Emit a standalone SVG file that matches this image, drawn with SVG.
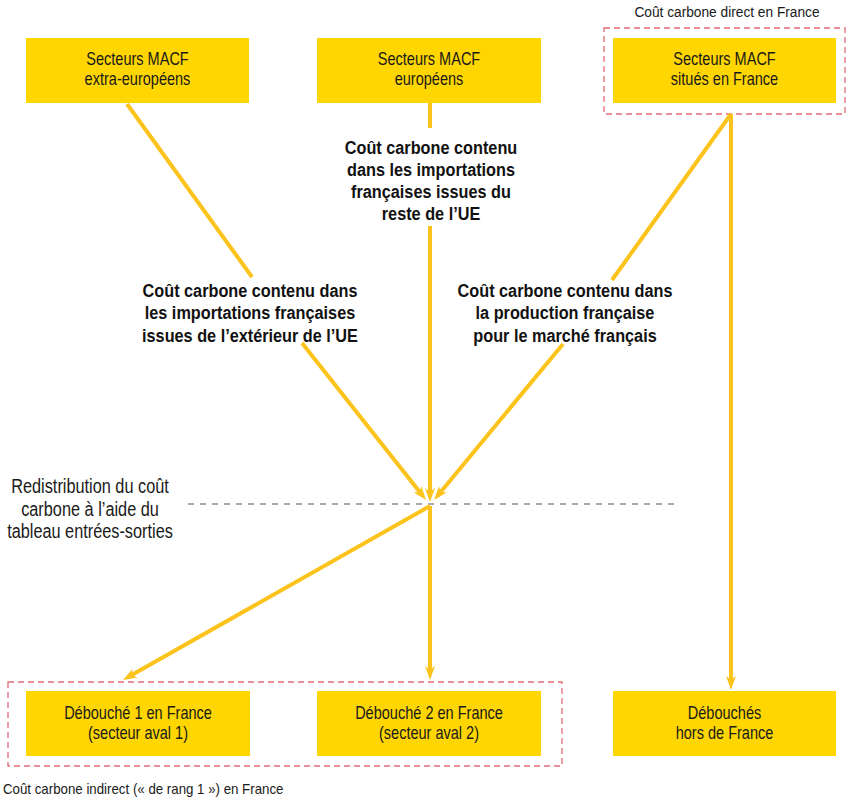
<svg xmlns="http://www.w3.org/2000/svg" width="854" height="800" viewBox="0 0 854 800">
<style>
.box{fill:#FFD600;}
text{font-family:"Liberation Sans",Arial,sans-serif;fill:#1a1a1a;}
.bt{font-size:17.5px;text-anchor:middle;}
.rt{font-size:20px;text-anchor:middle;}
.lb{font-size:17.5px;font-weight:bold;fill:#111;text-anchor:middle;}
.nt{font-size:15px;}
.ln{stroke:#FBC31C;stroke-width:4;fill:none;}
.ar{marker-end:url(#ah);}
.rd{fill:none;stroke:#E46A78;stroke-width:1.3;stroke-dasharray:6 4;}
</style>
<defs>
<marker id="ah" viewBox="0 0 14 10" refX="8" refY="5" markerWidth="14" markerHeight="10" markerUnits="userSpaceOnUse" orient="auto">
<path d="M0,0 L14,5 L0,10 L4,5 z" fill="#FBC31C"/>
</marker>
</defs>
<g id="frames">
<rect class="rd" x="604" y="28" width="241" height="86"/>
<rect class="rd" x="8" y="682" width="554" height="84"/>
<line x1="188" y1="504" x2="676" y2="504" stroke="#555" stroke-width="1.2" stroke-dasharray="6 6"/>
</g>
<g id="connectors">
<line class="ln" x1="127" y1="104" x2="252" y2="277"/>
<line class="ln ar" x1="302" y1="343" x2="422.3" y2="495.3"/>
<line class="ln" x1="430" y1="103" x2="430" y2="128"/>
<line class="ln ar" x1="430" y1="226" x2="430" y2="496"/>
<line class="ln" x1="731" y1="114" x2="612" y2="280"/>
<line class="ln ar" x1="563" y1="344" x2="437.8" y2="495.4"/>
<line class="ln ar" x1="731" y1="114" x2="731" y2="684"/>
<line class="ln ar" x1="430" y1="506" x2="128.2" y2="677.1"/>
<line class="ln ar" x1="430" y1="506" x2="430" y2="674"/>
</g>
<g id="n1"><rect class="box" x="26" y="38" width="223" height="65"/><g transform="translate(137.5,0) scale(0.83,1)"><text class="bt" x="0" y="65">Secteurs MACF</text><text class="bt" x="0" y="85">extra-européens</text></g></g>
<g id="n2"><rect class="box" x="317" y="38" width="224" height="65"/><g transform="translate(429,0) scale(0.83,1)"><text class="bt" x="0" y="65">Secteurs MACF</text><text class="bt" x="0" y="85">européens</text></g></g>
<g id="n3"><rect class="box" x="613" y="38" width="223" height="65"/><g transform="translate(724.5,0) scale(0.83,1)"><text class="bt" x="0" y="65">Secteurs MACF</text><text class="bt" x="0" y="85">situés en France</text></g></g>
<g id="n4"><rect class="box" x="26" y="691" width="224" height="65"/><g transform="translate(138,0) scale(0.83,1)"><text class="bt" x="0" y="719">Débouché 1 en France</text><text class="bt" x="0" y="739">(secteur aval 1)</text></g></g>
<g id="n5"><rect class="box" x="317" y="691" width="224" height="65"/><g transform="translate(429,0) scale(0.83,1)"><text class="bt" x="0" y="719">Débouché 2 en France</text><text class="bt" x="0" y="739">(secteur aval 2)</text></g></g>
<g id="n6"><rect class="box" x="613" y="691" width="223" height="65"/><g transform="translate(724.5,0) scale(0.83,1)"><text class="bt" x="0" y="719">Débouchés</text><text class="bt" x="0" y="739">hors de France</text></g></g>
<g id="labels">
<g transform="translate(727,0) scale(0.915,1)"><text class="nt" x="0" y="17" text-anchor="middle">Coût carbone direct en France</text></g>
<g transform="translate(3,0) scale(0.886,1)"><text class="nt" x="0" y="794">Coût carbone indirect (« de rang 1 ») en France</text></g>
<g transform="translate(90,0) scale(0.815,1)">
<text class="rt" x="0" y="493">Redistribution du coût</text>
<text class="rt" x="0" y="516">carbone à l’aide du</text>
<text class="rt" x="0" y="538">tableau entrées-sorties</text>
</g>
<g transform="translate(431,0) scale(0.93,1)">
<text class="lb" x="0" y="154">Coût carbone contenu</text>
<text class="lb" x="0" y="176">dans les importations</text>
<text class="lb" x="0" y="198">françaises issues du</text>
<text class="lb" x="0" y="220">reste de l’UE</text>
</g>
<g transform="translate(250,0) scale(0.93,1)">
<text class="lb" x="0" y="297">Coût carbone contenu dans</text>
<text class="lb" x="0" y="319">les importations françaises</text>
<text class="lb" x="0" y="342">issues de l’extérieur de l’UE</text>
</g>
<g transform="translate(565,0) scale(0.93,1)">
<text class="lb" x="0" y="297">Coût carbone contenu dans</text>
<text class="lb" x="0" y="319">la production française</text>
<text class="lb" x="0" y="342">pour le marché français</text>
</g>
</g>
</svg>
